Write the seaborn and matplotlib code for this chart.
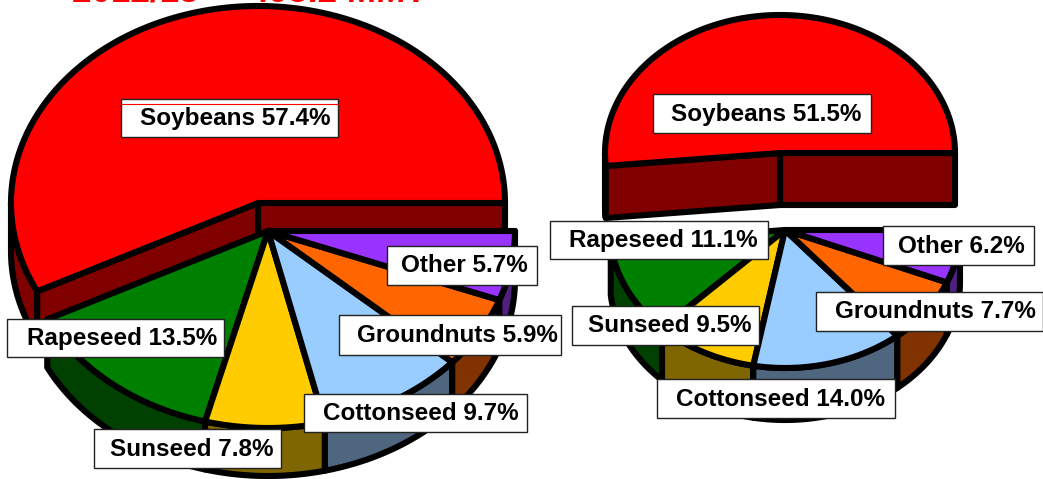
import numpy as np
import seaborn as sns
import matplotlib.pyplot as plt
from matplotlib.patches import Polygon, Rectangle

categories = ['Soybeans', 'Rapeseed', 'Sunseed', 'Cottonseed', 'Groundnuts', 'Other']
shares_left = [57.4, 13.5, 7.8, 9.7, 5.9, 5.7]
shares_right = [51.5, 11.1, 9.5, 14.0, 7.7, 6.2]
top_colors = ['#FF0000', '#008000', '#FFCC00', '#99CCFF', '#FF6600', '#9933FF']
side_colors = ['#800000', '#004000', '#806600', '#4F667F', '#803300', '#4F2080']

sns.set_theme(style='white')
plt.rcParams['font.family'] = ['Liberation Sans', 'DejaVu Sans']

fig, ax = plt.subplots(figsize=(10.43, 4.79), dpi=100)
fig.subplots_adjust(0, 0, 1, 1)
ax.set_xlim(0, 1043)
ax.set_ylim(479, 0)
ax.axis('off')
LW = 4.4


def rim(cx, cy, rx, ry, a0, a1):
    t = np.radians(np.linspace(a0, a1, max(int(abs(a1 - a0)), 2) + 1))
    return np.column_stack([cx + rx * np.cos(t), cy - ry * np.sin(t)])


def poly(pts, color, z, lw=LW):
    ax.add_patch(Polygon(pts, closed=True, facecolor=color, edgecolor='black',
                         linewidth=lw, joinstyle='round', zorder=z))


def pie3d(shares, top, low, rx, ry, depth):
    # soybeans is pulled out, so its two cut faces show
    a1 = shares[0] * 3.6
    cx, cy = top
    end = rim(cx, cy, rx, ry, a1, a1)[0]
    poly([[cx, cy], [cx + rx, cy], [cx + rx, cy + depth], [cx, cy + depth]], side_colors[0], 2)
    poly([[cx, cy], end, end + [0, depth], [cx, cy + depth]], side_colors[0], 2)
    arc = rim(cx, cy, rx, ry, 180, a1)
    poly(np.vstack([arc, (arc + [0, depth])[::-1]]), side_colors[0], 1)
    poly(np.vstack([[cx, cy], rim(cx, cy, rx, ry, 0, a1)]), top_colors[0], 3)

    # the rest of the pie, walls first
    cx, cy = low
    start = a1
    for i in range(1, len(shares)):
        stop = start + shares[i] * 3.6
        arc = rim(cx, cy, rx, ry, start, stop)
        poly(np.vstack([arc, (arc + [0, depth])[::-1]]), side_colors[i], 4)
        start = stop
    start = a1
    for i in range(1, len(shares)):
        stop = start + shares[i] * 3.6
        poly(np.vstack([[cx, cy], rim(cx, cy, rx, ry, start, stop)]), top_colors[i], 5)
        start = stop


pie3d(shares_left, (258, 203), (268, 231), 247, 197, 48)
pie3d(shares_right, (780, 153), (785, 230), 175, 138, 52)

# x0, x1, y0, y1, text start
boxes_left = [(121, 338, 99, 137, 140), (7, 224, 319, 357, 27), (94, 281, 429, 468, 110),
              (304, 527, 394, 432, 323), (339, 561, 315, 355, 357), (387, 537, 246, 285, 401)]
boxes_right = [(653, 871, 94, 133, 671), (550, 768, 221, 259, 569), (572, 759, 306, 345, 588),
               (657, 895, 379, 418, 676), (816, 1043, 292, 331, 835), (883, 1034, 226, 265, 898)]

for shares, boxes in [(shares_left, boxes_left), (shares_right, boxes_right)]:
    for name, val, (x0, x1, y0, y1, tx) in zip(categories, shares, boxes):
        ax.add_patch(Rectangle((x0, y0), x1 - x0, y1 - y0, facecolor='white',
                               edgecolor='#222222', linewidth=1, zorder=8))
        ax.text(tx, (y0 + y1) / 2 + 0.5, f'{name} {val:.1f}%', fontsize=17.5, fontweight='bold',
                color='black', ha='left', va='center', zorder=9)

# stray red line left in the top label
ax.plot([121, 338], [104, 104], color='#FF0000', lw=0.8, zorder=8.5)

ax.text(72, 1, '2012/13  -  495.2 MMT', color='#FF0000', fontsize=25.2, fontweight='bold',
        ha='left', va='baseline', zorder=9)

sns.despine(ax=ax, left=True, bottom=True)
fig.savefig('out.png', dpi=100)
